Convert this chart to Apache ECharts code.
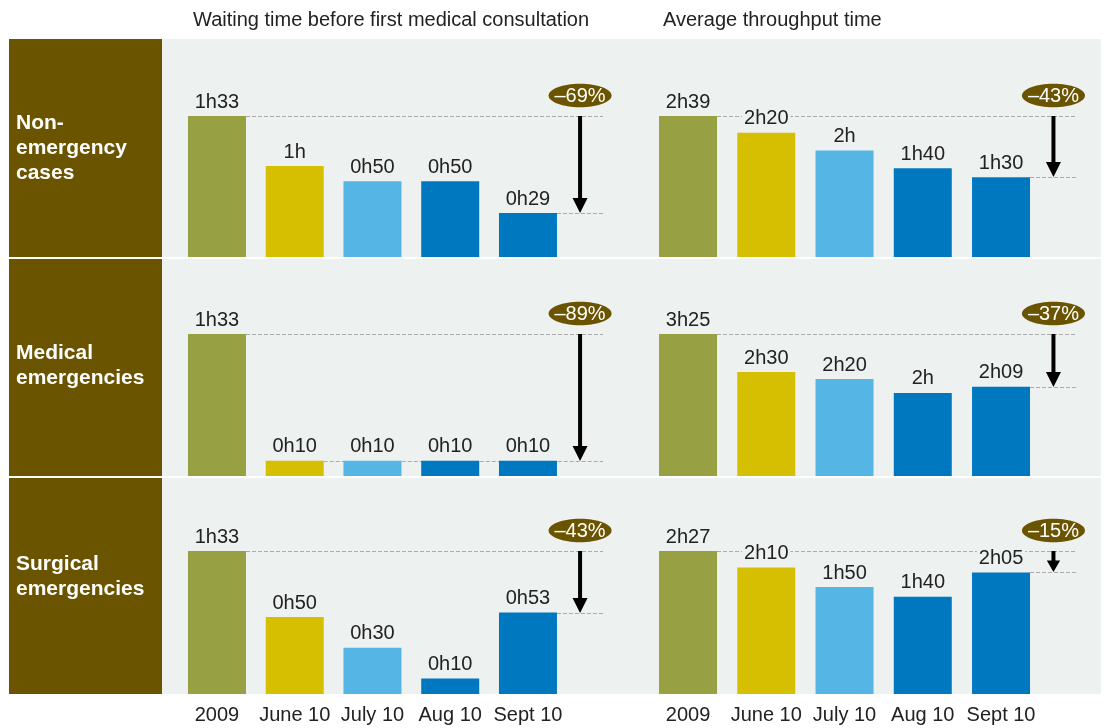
<!DOCTYPE html>
<html>
<head>
<meta charset="utf-8">
<script src="https://cdn.jsdelivr.net/npm/echarts@6/dist/echarts.min.js"></script>
<style>html,body{margin:0;padding:0;background:#fff}#c{width:1104px;height:728px}</style>
</head>
<body>
<div id="c"></div>
<script>
// ---- data ----
const categories = ['2009', 'June 10', 'July 10', 'Aug 10', 'Sept 10'];
const panelTitles = ['Waiting time before first medical consultation', 'Average throughput time'];
const rowLabels = ['Non-\nemergency\ncases', 'Medical\nemergencies', 'Surgical\nemergencies'];
// values in minutes
const waitingNonEmergency = [93, 60, 50, 50, 29];
const waitingMedical = [93, 10, 10, 10, 10];
const waitingSurgical = [93, 50, 30, 10, 53];
const throughputNonEmergency = [159, 140, 120, 100, 90];
const throughputMedical = [205, 150, 140, 120, 129];
const throughputSurgical = [147, 130, 110, 100, 125];

const panelData = [
  [waitingNonEmergency, throughputNonEmergency],
  [waitingMedical, throughputMedical],
  [waitingSurgical, throughputSurgical]
];

// ---- styles / layout ----
const FONT = "'Liberation Sans', Arial, sans-serif";
const barColors = ['#97a043', '#d6bf00', '#55b6e6', '#0078c0', '#0078c0'];
const BROWN = '#6b5400';
const PANEL = '#edf1f0';
const TEXT = '#222';
const BAR_W = 58;
const rowBoxes = [{ y: 39, h: 218 }, { y: 259, h: 217 }, { y: 478, h: 216 }];
const rowGrid = [{ top: 116, h: 141 }, { top: 334, h: 142 }, { top: 551, h: 143 }];
const rowLabelY = [148, 366, 577];
const colGrid = [{ left: 178.1, w: 388.75 }, { left: 648.9, w: 391.25 }];

function fmt(v) {
  const h = Math.floor(v / 60), m = v % 60;
  return m === 0 ? h + 'h' : h + 'h' + String(m).padStart(2, '0');
}

const grid = [], xAxis = [], yAxis = [], series = [];
let gi = 0;
for (let r = 0; r < 3; r++) {
  for (let c = 0; c < 2; c++) {
    const vals = panelData[r][c];
    grid.push({ left: colGrid[c].left, width: colGrid[c].w, top: rowGrid[r].top, height: rowGrid[r].h });
    xAxis.push({
      gridIndex: gi, type: 'category', data: categories,
      axisLine: { show: false }, axisTick: { show: false },
      axisLabel: { show: r === 2, interval: 0, hideOverlap: false, fontSize: 20, color: TEXT, fontFamily: FONT, margin: 11 }
    });
    yAxis.push({
      gridIndex: gi, type: 'value', min: 0, max: 'dataMax',
      axisLine: { show: false }, axisTick: { show: false }, axisLabel: { show: false }, splitLine: { show: false }
    });
    const first = vals[0], last = vals[vals.length - 1];
    let startIdx = vals.length - 1;
    while (startIdx > 1 && vals[startIdx - 1] === last) startIdx--;
    const pct = Math.round((first - last) / first * 100);

    // dashed reference lines (behind bars)
    series.push({
      type: 'custom', xAxisIndex: gi, yAxisIndex: gi, z: 1, silent: true,
      encode: { x: 0, y: [1, 2] },
      data: [[vals.length - 1, first, last, startIdx]],
      renderItem: function (params, api) {
        const band = api.size([1, 0])[0];
        const sx = api.coord([api.value(0), 0])[0];
        const endX = sx + band * 0.965;
        const yTop = api.coord([0, api.value(1)])[1];
        const yLast = api.coord([0, api.value(2)])[1];
        const x0 = api.coord([0, 0])[0] + BAR_W / 2;
        const xs = api.coord([api.value(3), 0])[0] + BAR_W / 2;
        const st = { stroke: '#ababab', lineWidth: 1, lineDash: [4, 2] };
        return {
          type: 'group', children: [
            { type: 'line', shape: { x1: x0, y1: Math.round(yTop) + 0.5, x2: endX, y2: Math.round(yTop) + 0.5 }, style: st },
            { type: 'line', shape: { x1: xs, y1: Math.round(yLast) + 0.5, x2: endX, y2: Math.round(yLast) + 0.5 }, style: st }
          ]
        };
      }
    });
    // bars
    series.push({
      type: 'bar', xAxisIndex: gi, yAxisIndex: gi, z: 2, barWidth: BAR_W, silent: true,
      data: vals.map((v, i) => ({ value: v, itemStyle: { color: barColors[i] } })),
      label: {
        show: true, position: 'top', distance: 4, fontSize: 20, color: TEXT, fontFamily: FONT,
        backgroundColor: PANEL, padding: [0, 2], formatter: p => fmt(p.value)
      }
    });
    // arrow + badge
    series.push({
      type: 'custom', xAxisIndex: gi, yAxisIndex: gi, z: 5, silent: true,
      encode: { x: 0, y: [1, 2] },
      data: [[vals.length - 1, first, last, pct]],
      renderItem: function (params, api) {
        const band = api.size([1, 0])[0];
        const sx = api.coord([api.value(0), 0])[0];
        const ax = sx + band * 0.67;
        const yTop = Math.round(api.coord([0, api.value(1)])[1]);
        const yLast = Math.round(api.coord([0, api.value(2)])[1]);
        const dist = yLast - yTop;
        const headH = Math.min(15, dist * 0.55);
        const headW = Math.min(15, headH * 1.15);
        return {
          type: 'group', children: [
            { type: 'line', shape: { x1: ax, y1: yTop, x2: ax, y2: yLast - headH + 1 }, style: { stroke: '#000', lineWidth: 4 } },
            { type: 'polygon', shape: { points: [[ax - headW / 2, yLast - headH], [ax + headW / 2, yLast - headH], [ax, yLast]] }, style: { fill: '#000' } },
            { type: 'ellipse', shape: { cx: ax, cy: yTop - 20.5, rx: 31.5, ry: 11.8 }, style: { fill: BROWN } },
            { type: 'text', style: { text: '\u2013' + api.value(3) + '%', x: ax, y: yTop - 20, align: 'center', verticalAlign: 'middle', fill: '#fff', fontSize: 20, fontFamily: FONT } }
          ]
        };
      }
    });
    gi++;
  }
}

const graphic = [];
rowBoxes.forEach((b, r) => {
  graphic.push({ type: 'rect', z: -10, shape: { x: 9, y: b.y, width: 153, height: b.h }, style: { fill: BROWN } });
  graphic.push({ type: 'rect', z: -10, shape: { x: 162, y: b.y, width: 939, height: b.h }, style: { fill: PANEL } });
  graphic.push({
    type: 'text', z: -5, x: 16, y: rowLabelY[r],
    style: { text: rowLabels[r], fill: '#fff', fontSize: 21, fontWeight: 'bold', fontFamily: FONT, lineHeight: 25, verticalAlign: 'middle', align: 'left' }
  });
});

const chart = echarts.init(document.getElementById('c'), null, { renderer: 'canvas' });
chart.setOption({
  animation: false,
  backgroundColor: '#fff',
  title: [
    { text: panelTitles[0], left: 188, top: 5, textStyle: { fontSize: 20, fontWeight: 'normal', color: TEXT, fontFamily: FONT } },
    { text: panelTitles[1], left: 658, top: 5, textStyle: { fontSize: 20, fontWeight: 'normal', color: TEXT, fontFamily: FONT } }
  ],
  grid, xAxis, yAxis, series, graphic
});
</script>
</body>
</html>
